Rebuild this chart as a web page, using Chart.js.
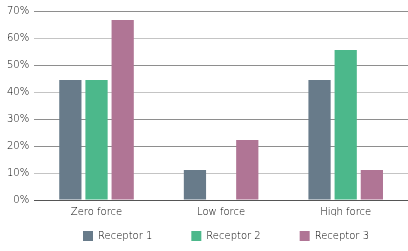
<!DOCTYPE html>
<html>
<head>
<meta charset="utf-8">
<script src="https://cdn.jsdelivr.net/npm/chart.js@4"></script>
<style>
  html, body { margin: 0; padding: 0; background: #fff; }
  #wrap { width: 408px; height: 251px; }
</style>
</head>
<body>
<div id="wrap"><canvas id="forceChart"></canvas></div>
<script>
/* ── data ── */
const categories = ["Zero force", "Low force", "High force"];
const receptor1 = [44.4, 11.1, 44.4];
const receptor2 = [44.4, 0, 55.6];
const receptor3 = [66.7, 22.2, 11.1];
const seriesNames = ["Receptor 1", "Receptor 2", "Receptor 3"];
const yTicks = [0, 10, 20, 30, 40, 50, 60, 70];

const colors = ["#687b8a", "#4cb88b", "#b07595"];
const font = { family: "DejaVu Sans", size: 10, weight: "200" };

// legend drawn higher than its layout box (keeps the wide item spacing)
// and centred on the plot area instead of the canvas
const legendShift = {
    id: "legendShift",
    afterLayout(chart) {
        const l = chart.legend;
        l.top -= 24;
        l.left += 21;
        l.right += 21;
    },
};

const ctx = document.getElementById("forceChart").getContext("2d");

new Chart(ctx, {
    type: "bar",
    data: {
        labels: categories,
        datasets: [receptor1, receptor2, receptor3].map((vals, i) => ({
            label: seriesNames[i],
            data: vals,
            backgroundColor: colors[i],
            borderWidth: 0,
            barPercentage: 0.85,
            categoryPercentage: 0.63,
        })),
    },
    options: {
        responsive: true,
        maintainAspectRatio: false,
        animation: false,
        layout: { padding: { top: 4, right: 0, left: 2, bottom: 0 } },
        plugins: {
            tooltip: { enabled: false },
            legend: {
                position: "bottom",
                maxHeight: 35,
                labels: {
                    color: "#000",
                    font: font,
                    boxWidth: 10,
                    boxHeight: 10,
                    padding: 39,
                },
            },
        },
        scales: {
            x: {
                grid: { display: false },
                border: { color: "#555", width: 1 },
                ticks: { color: "#000", font: font, padding: -2 },
            },
            y: {
                min: 0,
                max: 70,
                afterBuildTicks: (axis) => {
                    axis.ticks = yTicks.map((v) => ({ value: v }));
                },
                border: { display: false },
                grid: {
                    drawTicks: false,
                    color: (c) => ([10, 40, 60].includes(c.tick.value) ? "#c4c4c4" : "#8e8e8e"),
                },
                ticks: {
                    color: "#000",
                    font: font,
                    padding: 5,
                    callback: (v) => v + "%",
                },
            },
        },
    },
    plugins: [legendShift],
});
</script>
</body>
</html>
